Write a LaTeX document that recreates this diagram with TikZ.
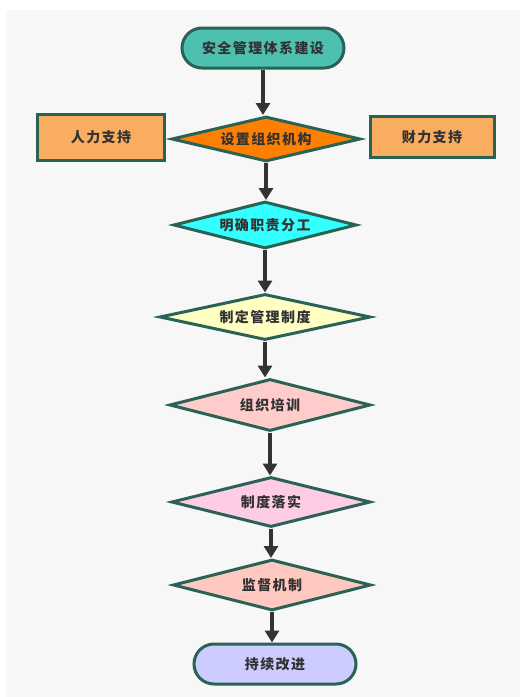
\documentclass[tikz,border=0pt]{standalone}
\usepackage{fontspec}
\setmainfont{Noto Sans CJK SC}
\usepackage{xcolor}
\definecolor{backg}{RGB}{247,247,247}
\definecolor{edge}{RGB}{42,99,85}
\definecolor{arrowc}{RGB}{51,51,51}
\definecolor{txt}{RGB}{50,50,50}
\definecolor{teal}{RGB}{78,192,175}
\definecolor{orng}{RGB}{255,127,0}
\definecolor{lorng}{RGB}{248,173,96}
\definecolor{cyan1}{RGB}{51,255,255}
\definecolor{yell}{RGB}{255,255,196}
\definecolor{rose}{RGB}{255,204,204}
\definecolor{pink1}{RGB}{255,204,230}
\definecolor{salm}{RGB}{255,200,192}
\definecolor{lilac}{RGB}{204,204,255}
\usetikzlibrary{arrows.meta,shapes.geometric}
\tikzstyle{flow} = [draw=edge,line width=3pt,text=txt,font=\fontsize{14}{16}\selectfont\bfseries\addfontfeature{LetterSpace=10}]
\tikzstyle{term} = [flow,rounded corners=20pt,minimum width=162pt,minimum height=40pt]
\tikzstyle{deci} = [flow,diamond,aspect=4,inner sep=0pt]
\tikzstyle{side} = [flow,rectangle]
\tikzstyle{link} = [line width=4pt,draw=arrowc,-{Triangle[width=14pt,length=12pt]}]

\begin{document}
\begin{tikzpicture}[x=1pt,y=1pt]
    \useasboundingbox (0,0) rectangle (520,-697);
    \fill[backg] (6,-10) rectangle (520,-697);
    \node[term,fill=teal] (start) at (263,-48) {安全管理体系建设};
    \node[deci,fill=orng,minimum width=189pt,minimum height=45pt] (org) at (266,-139) {设置组织机构};
    \node[side,fill=lorng,minimum width=127pt,minimum height=46pt] (people) at (101,-137) {人力支持};
    \node[side,fill=lorng,minimum width=124pt,minimum height=41pt] (money) at (432,-137) {财力支持};
    \node[deci,fill=cyan1,minimum width=183pt,minimum height=47pt] (duty) at (265,-225) {明确职责分工};
    \node[deci,fill=yell,minimum width=211pt,minimum height=46pt] (rule) at (265,-317) {制定管理制度};
    \node[deci,fill=rose,minimum width=201pt,minimum height=52pt] (train) at (270,-405) {组织培训};
    \node[deci,fill=pink1,minimum width=199pt,minimum height=50pt] (apply) at (271,-502) {制度落实};
    \node[deci,fill=salm,minimum width=198pt,minimum height=51pt] (watch) at (272,-585) {监督机制};
    \node[term,fill=lilac] (improve) at (275,-664) {持续改进};
    \foreach \a/\b in {start/org,org/duty,duty/rule,rule/train,train/apply,apply/watch,watch/improve} {
        \draw[link] (\a.south) -- (\a.south |- \b.north);
    }
\end{tikzpicture}
\end{document}
